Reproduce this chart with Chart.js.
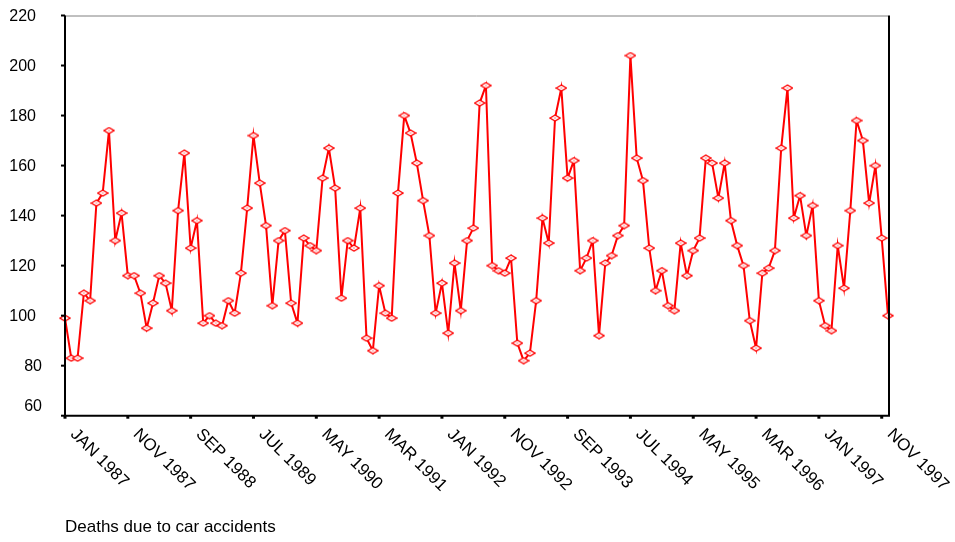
<!DOCTYPE html>
<html>
<head>
<meta charset="utf-8">
<script src="https://cdn.jsdelivr.net/npm/chart.js@4"></script>
<style>
  html, body { margin: 0; padding: 0; background: #fff; }
  #wrap { width: 955px; height: 542px; position: relative; }
</style>
</head>
<body>
<div id="wrap"><canvas id="chart" width="955" height="542"></canvas></div>
<script>
// Data (monthly, JAN 1987 - DEC 1997)
const MONTHS = ['JAN', 'FEB', 'MAR', 'APR', 'MAY', 'JUN', 'JUL', 'AUG', 'SEP', 'OCT', 'NOV', 'DEC'];
const START_YEAR = 1987;
const deaths = [
  99, 83, 83, 109, 106, 145, 149, 174, 130, 141, 116, 116,
  109, 95, 105, 116, 113, 102, 142, 165, 127, 138, 97, 100,
  97, 96, 106, 101, 117, 143, 172, 153, 136, 104, 130, 134,
  105, 97, 131, 128, 126, 155, 167, 151, 107, 130, 127, 143,
  91, 86, 112, 101, 99, 149, 180, 173, 161, 146, 132, 101,
  113, 93, 121, 102, 130, 135, 185, 192, 120, 118, 117, 123,
  89, 82, 85, 106, 139, 129, 179, 191, 155, 162, 118, 123,
  130, 92, 121, 124, 132, 136, 204, 163, 154, 127, 110, 118,
  104, 102, 129, 116, 126, 131, 163, 161, 147, 161, 138, 128,
  120, 98, 87, 117, 119, 126, 167, 191, 139, 148, 132, 144,
  106, 96, 94, 128, 111, 142, 178, 170, 145, 160, 131, 100
];
const yTicks = [60, 80, 100, 120, 140, 160, 180, 200, 220];
const xTickLabels = ['JAN 1987', 'NOV 1987', 'SEP 1988', 'JUL 1989', 'MAY 1990', 'MAR 1991',
  'JAN 1992', 'NOV 1992', 'SEP 1993', 'JUL 1994', 'MAY 1995', 'MAR 1996', 'JAN 1997', 'NOV 1997'];
const TICK_EVERY = 10;
const caption = 'Deaths due to car accidents';

const FONT = 'Arial, "Liberation Sans", sans-serif';

// Month categories
const categories = deaths.map((_, i) => MONTHS[i % 12] + ' ' + (START_YEAR + Math.floor(i / 12)));

// Flattened hollow diamond marker
function makeMarker() {
    const c = document.createElement('canvas');
    c.width = 12;
    c.height = 8;
    const ctx = c.getContext('2d');
    ctx.beginPath();
    ctx.moveTo(1, 4);
    ctx.lineTo(6, 1);
    ctx.lineTo(11, 4);
    ctx.lineTo(6, 7);
    ctx.closePath();
    ctx.fillStyle = '#ffffff';
    ctx.fill();
    ctx.strokeStyle = '#ff0000';
    ctx.lineWidth = 1.3;
    ctx.stroke();
    ctx.fillStyle = '#ff0000';
    ctx.fillRect(5.5, 3.5, 1, 1);
    return c;
}

// Frame, tick marks and labels
const framePlugin = {
    id: 'frame',
    afterDatasetsDraw(chart) {
        const { ctx, chartArea: a, scales } = chart;
        ctx.save();

        // top and right border
        ctx.strokeStyle = '#808080';
        ctx.lineWidth = 1;
        ctx.beginPath();
        ctx.moveTo(a.left, a.top + 0.5);
        ctx.lineTo(a.right, a.top + 0.5);
        ctx.stroke();
        ctx.strokeStyle = '#000000';
        ctx.lineWidth = 2;
        ctx.beginPath();
        ctx.moveTo(a.right + 1, a.top);
        ctx.lineTo(a.right + 1, a.bottom);
        ctx.stroke();

        // axes
        ctx.beginPath();
        ctx.moveTo(a.left, a.top);
        ctx.lineTo(a.left, a.bottom + 1);
        ctx.moveTo(a.left, a.bottom);
        ctx.lineTo(a.right + 2, a.bottom);
        ctx.stroke();

        // y ticks + labels
        ctx.fillStyle = '#000000';
        ctx.font = '16px ' + FONT;
        ctx.textBaseline = 'middle';
        ctx.textAlign = 'right';
        yTicks.forEach(v => {
            const y = scales.y.getPixelForValue(v);
            ctx.fillRect(a.left - 4, y - 1, 4, 2);
            const x = v >= 100 ? 36 : 42;
            ctx.fillText(String(v), x, v === 60 ? y - 9 : y + 1);
        });

        // x ticks + rotated labels
        ctx.font = '17px ' + FONT;
        ctx.textAlign = 'left';
        ctx.textBaseline = 'top';
        xTickLabels.forEach((label, k) => {
            const x = scales.x.getPixelForValue(k * TICK_EVERY);
            ctx.fillRect(x - 1.5, a.bottom, 3, 3);
            ctx.save();
            ctx.translate(x + 14, a.bottom + 10);
            ctx.rotate(Math.PI / 4);
            ctx.fillText(label, 0, 0);
            ctx.restore();
        });

        // caption
        ctx.font = '17px ' + FONT;
        ctx.textBaseline = 'alphabetic';
        ctx.fillText(caption, 65, 532);

        ctx.restore();
    }
};

const chart = new Chart(document.getElementById('chart'), {
    type: 'line',
    data: {
        labels: categories,
        datasets: [{
            label: caption,
            data: deaths,
            borderColor: '#ff0000',
            borderWidth: 2,
            tension: 0,
            fill: false,
            clip: false,
            pointStyle: makeMarker(),
            pointRadius: 5,
            pointHoverRadius: 5
        }]
    },
    options: {
        responsive: false,
        animation: false,
        events: [],
        layout: { padding: { top: 15.5, right: 67, left: 0, bottom: 0 } },
        plugins: {
            legend: { display: false },
            tooltip: { enabled: false },
            title: { display: false }
        },
        scales: {
            x: {
                type: 'category',
                offset: false,
                grid: { display: false, drawTicks: false },
                border: { display: false },
                ticks: { display: false },
                afterFit: scale => { scale.height = 126.3; }
            },
            y: {
                min: 60,
                max: 220,
                grid: { display: false, drawTicks: false },
                border: { display: false },
                ticks: { display: false, stepSize: 20 },
                afterFit: scale => { scale.width = 65; }
            }
        }
    },
    plugins: [framePlugin]
});
</script>
</body>
</html>
